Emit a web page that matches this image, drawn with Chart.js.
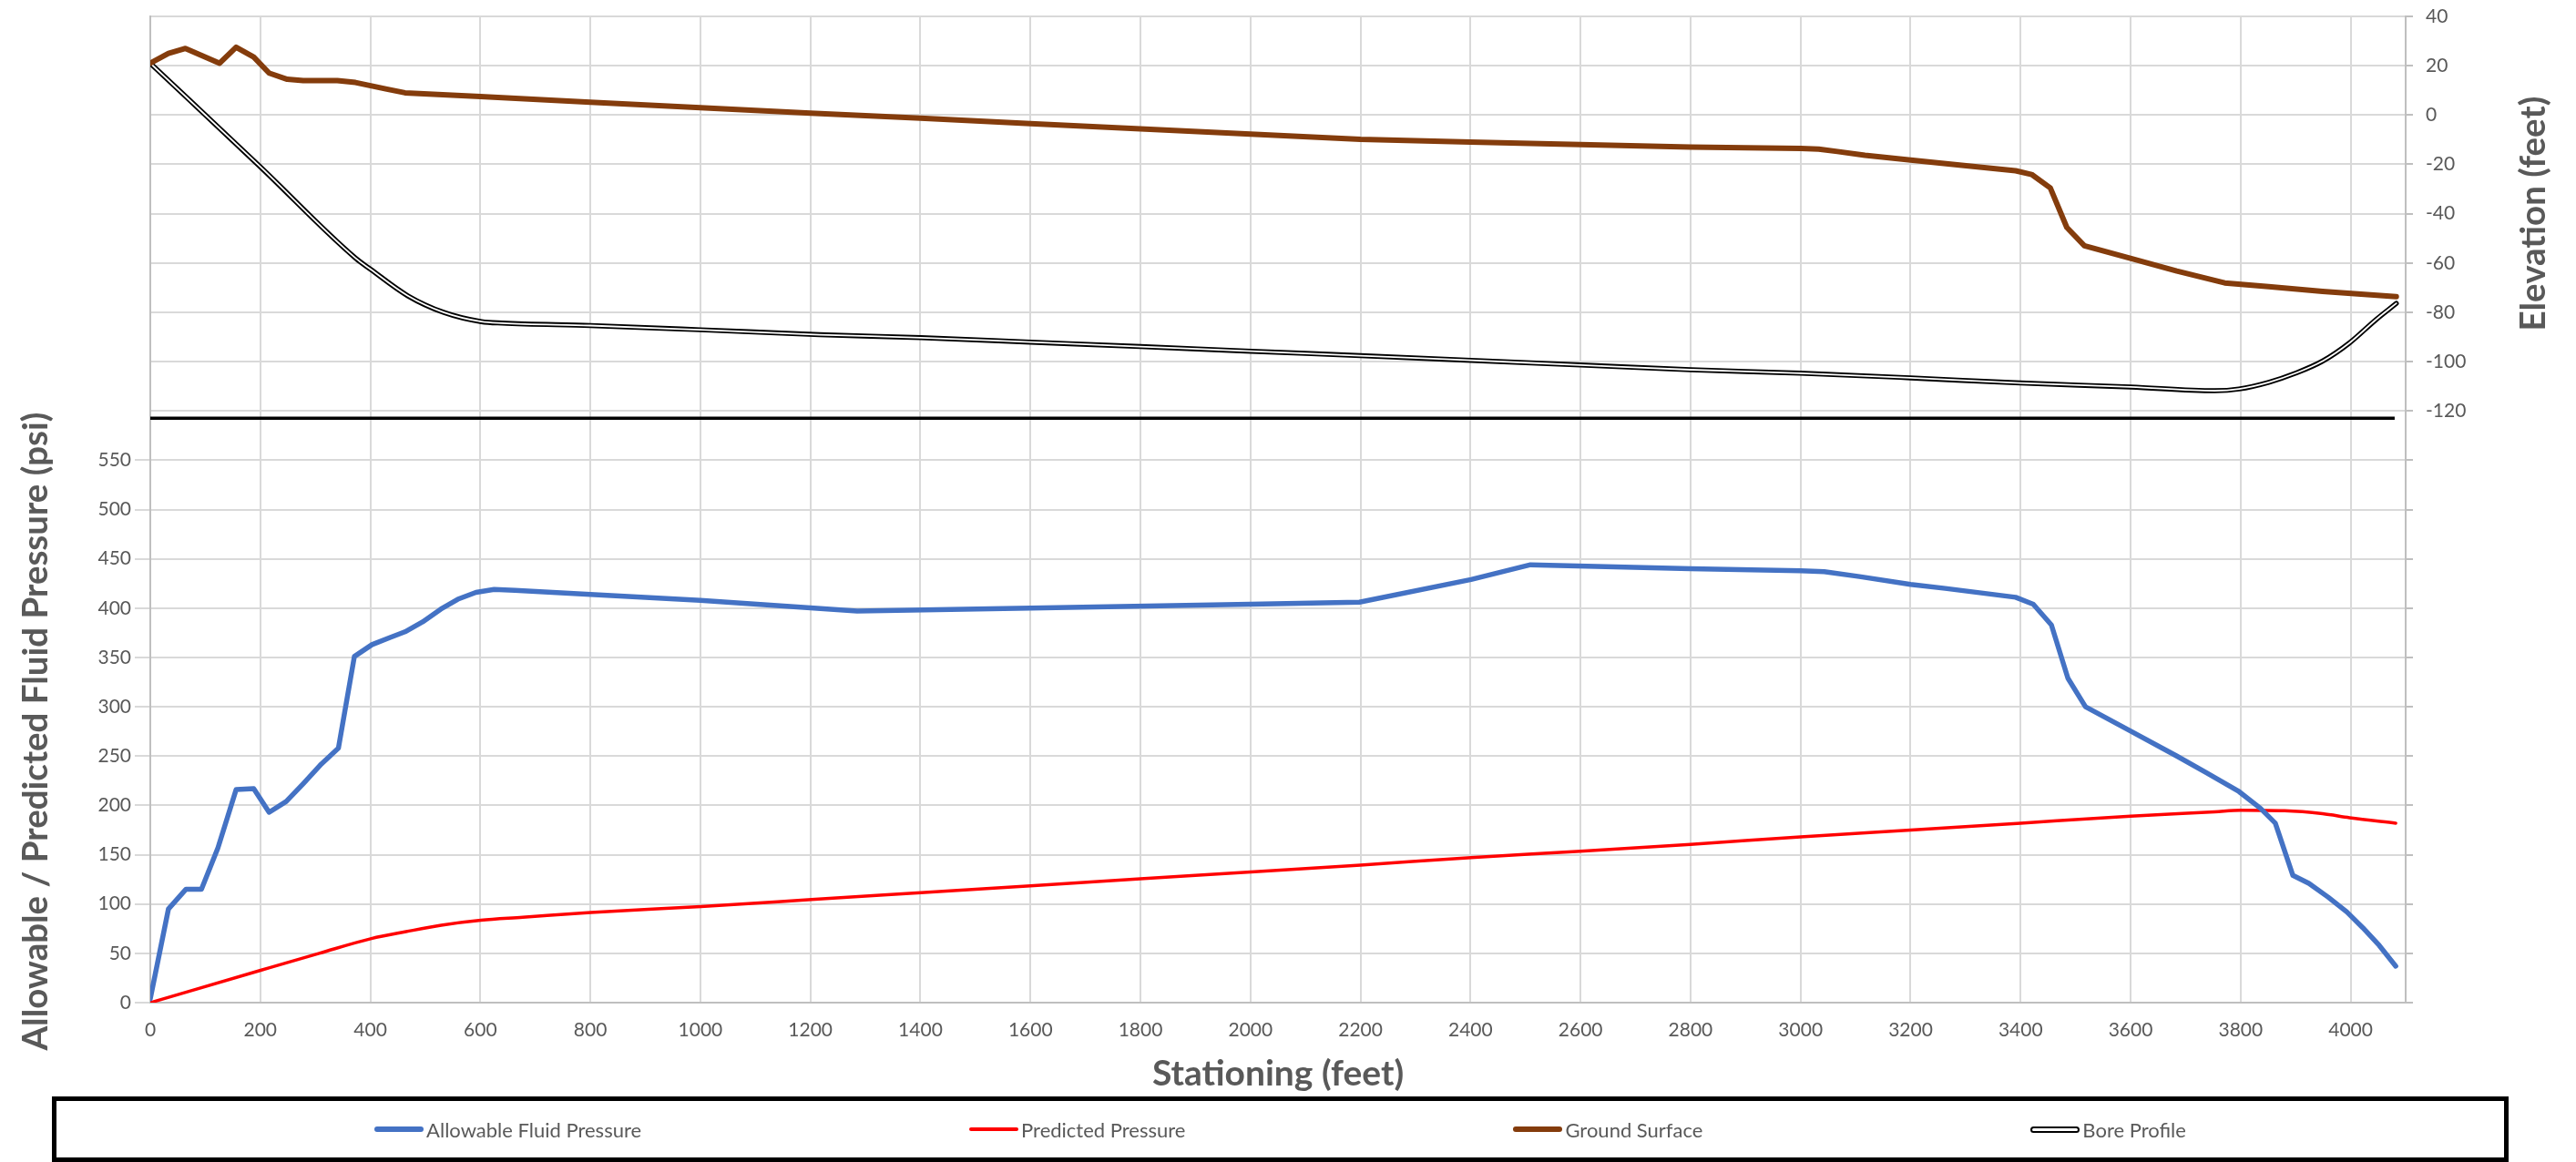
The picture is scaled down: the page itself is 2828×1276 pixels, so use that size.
<!DOCTYPE html>
<html>
<head>
<meta charset="utf-8">
<script src="https://cdn.jsdelivr.net/npm/chart.js@4.4.1/dist/chart.umd.min.js"></script>
<style>
  html, body { margin: 0; padding: 0; background: #fff; }
  #wrap { position: relative; width: 2828px; height: 1276px; overflow: hidden; }
  #chart { display: block; }
  #legend {
    position: absolute; left: 57px; top: 1204px; width: 2697px; height: 72px;
    box-sizing: border-box; border: 5px solid #000;
    display: flex; align-items: center; justify-content: center; gap: 360px;
    font-family: Lato, "Liberation Sans", sans-serif; font-size: 22px; color: #595959;
  }
  .item { display: flex; align-items: center; white-space: nowrap; }
  .swatch { width: 54px; margin-right: 3px; border-radius: 4px; box-sizing: border-box; }
</style>
</head>
<body>
<div id="wrap">
  <canvas id="chart" width="2828" height="1276"></canvas>
  <div id="legend"></div>
</div>
<script>
// Allowable fluid pressure (psi) vs stationing (ft)
const allowStation = [0, 33, 65, 93, 123, 156, 188, 216, 247, 278, 311, 342, 371, 403, 435, 463, 495, 528, 559, 592, 625, 663, 800, 1000, 1285, 1600, 2000, 2198, 2401, 2509, 2800, 3000, 3043, 3107, 3200, 3263, 3391, 3423, 3456, 3486, 3518, 3601, 3684, 3738, 3797, 3836, 3863, 3895, 3924, 3959, 3993, 4022, 4052, 4082];
const allowPsi = [4, 95, 115, 115, 157, 216, 217, 193, 204, 222, 242, 258, 351, 363, 370, 376, 386, 399, 409, 416, 419, 418, 414, 408, 397, 400, 404, 406, 429, 444, 440, 438, 437, 432, 424, 420, 411, 404, 383, 329, 300, 275, 250, 233, 214, 197, 182, 129, 121, 107, 92, 76, 58, 37];

// Predicted drilling fluid pressure (psi)
const predStation = [0, 202, 307, 402, 465, 529, 601, 677, 801, 1001, 1202, 1401, 1600, 1800, 2001, 2200, 2401, 2600, 2800, 3000, 3200, 3400, 3600, 3753, 3800, 3880, 3949, 3998, 4082];
const predPsi = [0, 33, 50, 65, 72, 78.5, 83.5, 86.5, 91.5, 97.5, 104.5, 111.5, 118.5, 125.5, 132.5, 139.5, 147, 153.5, 160.5, 168, 175, 182, 189, 193.5, 195, 194.5, 191.5, 187.5, 182];

// Ground surface elevation (ft)
const groundStation = [0, 33, 64, 126, 156, 188, 216, 249, 278, 340, 373, 430, 463, 600, 800, 1000, 1200, 1400, 1600, 1800, 2000, 2200, 2400, 2600, 2800, 3000, 3033, 3067, 3117, 3200, 3293, 3391, 3420, 3454, 3484, 3516, 3601, 3684, 3771, 3851, 3949, 4083];
const groundElev = [21, 25, 27, 21, 27.5, 23.5, 17, 14.5, 14, 14, 13.2, 10.5, 9, 7.5, 5.2, 3, 0.8, -1.3, -3.5, -5.6, -7.7, -9.9, -11, -12, -13, -13.6, -13.8, -14.8, -16.3, -18.3, -20.4, -22.6, -24.1, -29.6, -45.6, -53, -58.2, -63.3, -68.1, -69.6, -71.5, -73.7];

// Bore profile elevation (ft)
const boreStation = [0, 200, 373, 400, 468, 534, 602, 640, 800, 1000, 1217, 1401, 1600, 1800, 2001, 2200, 2401, 2600, 2800, 3000, 3200, 3400, 3600, 3753, 3797, 3851, 3900, 3949, 3998, 4046, 4083];
const boreElev = [21, -21, -58, -62.5, -73.3, -80.1, -83.8, -84.4, -85.4, -87.1, -89.1, -90.3, -92.1, -93.9, -95.8, -97.6, -99.5, -101.4, -103.3, -104.7, -106.6, -108.7, -110.3, -111.8, -111.1, -108.4, -104.7, -99.8, -92.4, -83, -76.4];

// divider between the profile panel and the pressure panel
const dividerStation = [0, 4080];
const dividerElev = [-123, -123];

// tick labels that carry text
const stationTicks = [0, 200, 400, 600, 800, 1000, 1200, 1400, 1600, 1800, 2000, 2200, 2400, 2600, 2800, 3000, 3200, 3400, 3600, 3800, 4000];
const pressureTicks = [0, 50, 100, 150, 200, 250, 300, 350, 400, 450, 500, 550];
const elevTicks = [-120, -100, -80, -60, -40, -20, 0, 20, 40];

const FONT = 'Lato, "Liberation Sans", sans-serif';
const GRAY = '#595959';
const GRID = '#d9d9d9';
const AXIS = '#bfbfbf';
const pressureTitle = 'Allowable / Predicted Fluid Pressure (psi)';
const elevTitle = 'Elevation (feet)';

const pts = (xs, ys) => xs.map((x, i) => ({ x: x, y: ys[i] }));

// y titles sit centred on the labelled part of each axis
const sideTitles = {
    id: 'sideTitles',
    afterDraw(chart) {
        const { ctx, scales } = chart;
        ctx.save();
        ctx.fillStyle = GRAY;
        ctx.textAlign = 'center';
        ctx.textBaseline = 'middle';
        ctx.font = 'bold 38.5px ' + FONT;

        const yMid = (scales.y.getPixelForValue(pressureTicks[0]) + scales.y.getPixelForValue(pressureTicks[pressureTicks.length - 1])) / 2;
        ctx.save();
        ctx.translate(scales.y.left + 40, yMid);
        ctx.rotate(-Math.PI / 2);
        ctx.fillText(pressureTitle, 0, 0);
        ctx.restore();

        const eMid = (scales.y2.getPixelForValue(elevTicks[0]) + scales.y2.getPixelForValue(elevTicks[elevTicks.length - 1])) / 2;
        ctx.save();
        ctx.translate(scales.y2.right - 46, eMid);
        ctx.rotate(-Math.PI / 2);
        ctx.fillText(elevTitle, 0, 0);
        ctx.restore();

        ctx.restore();
    }
};

// keep the plot box where the axes were measured: no extra label overhang
const noOverhang = s => { s.paddingTop = 0; s.paddingBottom = 0; };

Chart.defaults.font.family = FONT;
Chart.defaults.color = GRAY;

const chart = new Chart(document.getElementById('chart'), {
    type: 'line',
    data: {
        datasets: [
            {
                label: 'Allowable Fluid Pressure', data: pts(allowStation, allowPsi), yAxisID: 'y',
                borderColor: '#4472C4', borderWidth: 5.5, tension: 0, order: 1,
                swatch: { bg: '#4472C4', h: 6 }
            },
            {
                label: 'Predicted Pressure', data: pts(predStation, predPsi), yAxisID: 'y',
                borderColor: '#FF0000', borderWidth: 3.5, cubicInterpolationMode: 'monotone', order: 2,
                swatch: { bg: '#FF0000', h: 4 }
            },
            {
                label: 'Ground Surface', data: pts(groundStation, groundElev), yAxisID: 'y2',
                borderColor: '#843C0C', borderWidth: 6, tension: 0, order: 3,
                swatch: { bg: '#843C0C', h: 6 }
            },
            {
                label: 'Bore Profile', data: pts(boreStation, boreElev), yAxisID: 'y2',
                borderColor: '#000000', borderWidth: 5.5, cubicInterpolationMode: 'monotone', order: 5,
                swatch: { bg: '#ffffff', h: 7, border: '2px solid #000' }
            },
            {
                label: 'bore-inner', data: pts(boreStation, boreElev), yAxisID: 'y2',
                borderColor: '#ffffff', borderWidth: 1.8, cubicInterpolationMode: 'monotone', order: 4
            },
            {
                label: 'divider', data: pts(dividerStation, dividerElev), yAxisID: 'y2',
                borderColor: '#000000', borderWidth: 3.5, tension: 0, order: 6, borderCapStyle: 'butt'
            }
        ]
    },
    options: {
        responsive: false,
        animation: false,
        layout: { padding: { top: 18, bottom: 72, left: 0, right: 0 } },
        elements: {
            point: { radius: 0 },
            line: { borderJoinStyle: 'round', borderCapStyle: 'round', fill: false }
        },
        plugins: { legend: { display: false }, tooltip: { enabled: false } },
        scales: {
            x: {
                type: 'linear', min: 0, max: 4100,
                afterBuildTicks: s => { s.ticks = stationTicks.map(v => ({ value: v })); },
                ticks: {
                    autoSkip: false, maxRotation: 0, padding: 18, color: GRAY, font: { size: 21 },
                    callback: v => String(v)
                },
                grid: { color: GRID, lineWidth: 2, drawTicks: false },
                border: { color: AXIS, width: 2 },
                title: {
                    display: true, text: 'Stationing (feet)', color: GRAY,
                    font: { size: 39, weight: 'bold' }, padding: { top: 0, bottom: 1 }
                },
                afterFit: s => { s.height = 103; }
            },
            y: {
                position: 'left', min: 0, max: 1000,
                ticks: {
                    stepSize: 50, autoSkip: false, padding: 4, color: GRAY, font: { size: 21 },
                    callback: v => pressureTicks.includes(v) ? String(v) : ''
                },
                grid: {
                    color: GRID, lineWidth: 2, tickLength: 17,
                    tickColor: c => pressureTicks.includes(c.tick.value) ? GRID : 'rgba(0,0,0,0)'
                },
                border: { color: AXIS, width: 2 },
                afterFit: s => { s.width = 165; noOverhang(s); }
            },
            y2: {
                position: 'right', min: -360, max: 40,
                ticks: {
                    stepSize: 20, autoSkip: false, padding: 14, color: GRAY, font: { size: 21 },
                    callback: v => elevTicks.includes(v) ? String(v) : ''
                },
                grid: { drawOnChartArea: false, tickLength: 8, color: AXIS, lineWidth: 2 },
                border: { color: AXIS, width: 2 },
                afterFit: s => { s.width = 187; noOverhang(s); }
            }
        }
    },
    plugins: [sideTitles]
});

// legend built from the datasets that carry a swatch
const legendEl = document.getElementById('legend');
chart.data.datasets.filter(d => d.swatch).forEach(d => {
    const item = document.createElement('div');
    item.className = 'item';
    const sw = document.createElement('span');
    sw.className = 'swatch';
    sw.style.height = d.swatch.h + 'px';
    sw.style.background = d.swatch.bg;
    if (d.swatch.border) sw.style.border = d.swatch.border;
    const txt = document.createElement('span');
    txt.textContent = d.label;
    item.appendChild(sw);
    item.appendChild(txt);
    legendEl.appendChild(item);
});
</script>
</body>
</html>
